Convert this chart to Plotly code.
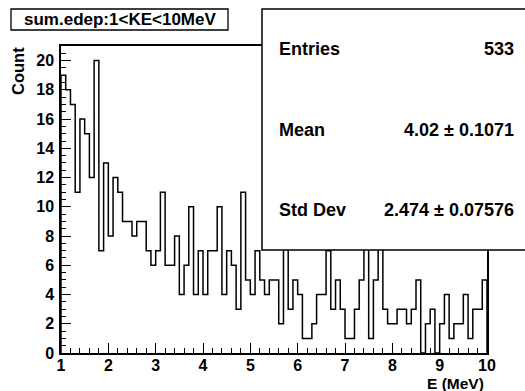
import numpy as np
import plotly.graph_objects as go

# ---------------- data ----------------
E_MIN, E_MAX = 1.0, 10.0
counts = [19, 18, 17, 11, 16, 15, 12, 20, 7, 13,
          8, 12, 11, 9, 9, 8, 9, 9, 7, 6,
          7, 11, 6, 6, 8, 4, 6, 10, 4, 7,
          4, 7, 7, 10, 4, 7, 6, 3, 11, 5,
          4, 7, 5, 4, 5, 5, 2, 8, 3, 5,
          4, 1, 1, 2, 4, 4, 7, 3, 5, 3,
          1, 1, 3, 5, 8, 1, 5, 8, 3, 2,
          2, 3, 3, 2, 3, 5, 0, 2, 3, 0,
          2, 4, 1, 2, 2, 4, 1, 3, 3, 5]
x_tick_vals = list(range(1, 11))
y_tick_vals = list(range(0, 21, 2))
title_text = "sum.edep:1<KE<10MeV"
x_title = "E (MeV)"
y_title = "Count"
stat_names = ["Entries", "Mean", "Std Dev"]
stat_values = ["533", "4.02 \u00b1 0.1071", "2.474 \u00b1 0.07576"]

# ---------------- layout geometry ----------------
W, H = 525, 391
L, R, T, B = 61, 38, 46, 38
PW, PH = W - L - R, H - T - B


def px(X):
    return (X - L) / PW


def py(Y):
    return (H - B - Y) / PH


FONT = "Liberation Sans, Arial, Helvetica, sans-serif"

nb = len(counts)
edges = np.linspace(E_MIN, E_MAX, nb + 1)
xs = [edges[0]] + list(edges[:nb]) + [edges[nb], edges[nb]]
ys = [0] + list(counts) + [counts[-1], 0]

fig = go.Figure()
fig.add_trace(go.Scatter(x=xs, y=ys, mode="lines", line=dict(color="black", width=1.5, shape="hv"),
                         hoverinfo="skip", showlegend=False))

axis_common = dict(showline=True, linecolor="black", linewidth=1.5, mirror=True, showgrid=False,
                   zeroline=False, ticks="inside", tickcolor="black", tickwidth=1.3, ticklen=10,
                   tickfont=dict(family=FONT, size=16, color="black", weight="bold"))

fig.update_layout(
    width=W, height=H, margin=dict(l=L, r=R, t=T, b=B),
    paper_bgcolor="white", plot_bgcolor="white",
    xaxis=dict(range=[E_MIN, E_MAX], tickvals=x_tick_vals, ticktext=[str(v) for v in x_tick_vals],
               minor=dict(ticks="inside", dtick=0.2, ticklen=5, tickcolor="black", tickwidth=1.3),
               ticklabelstandoff=-3, **axis_common),
    yaxis=dict(range=[0, 21], tickvals=y_tick_vals, ticktext=[str(v) for v in y_tick_vals],
               minor=dict(ticks="inside", dtick=0.5, ticklen=5, tickcolor="black", tickwidth=1.3),
               ticklabelstandoff=2, **axis_common),
)

# title box
fig.add_shape(type="rect", xref="paper", yref="paper", x0=px(11), x1=px(228), y0=py(30), y1=py(9),
              line=dict(color="black", width=1.3), fillcolor="white", layer="above")
fig.add_annotation(xref="paper", yref="paper", x=px(119.5), y=py(19.5), text=title_text, showarrow=False,
                   xanchor="center", yanchor="middle",
                   font=dict(family=FONT, size=17, color="black", weight="bold"))

# stats box
fig.add_shape(type="rect", xref="paper", yref="paper", x0=px(262), x1=px(540), y0=py(250), y1=py(9),
              line=dict(color="black", width=1.5), fillcolor="white", layer="above")
row_y = [49, 130, 210]
for name, val, yy in zip(stat_names, stat_values, row_y):
    fig.add_annotation(xref="paper", yref="paper", x=px(276.5), y=py(yy), text=name, showarrow=False,
                       xanchor="left", yanchor="middle",
                       font=dict(family=FONT, size=18, color="black", weight="bold"))
    fig.add_annotation(xref="paper", yref="paper", x=px(516), y=py(yy), text=val, showarrow=False,
                       xanchor="right", yanchor="middle",
                       font=dict(family=FONT, size=18, color="black", weight="bold"))

# axis titles
fig.add_annotation(xref="paper", yref="paper", x=px(486), y=py(383.5), text=x_title, showarrow=False,
                   xanchor="right", yanchor="middle",
                   font=dict(family=FONT, size=15.5, color="black", weight="bold"))
fig.add_annotation(xref="paper", yref="paper", x=px(17.5), y=py(71.5), text=y_title, showarrow=False,
                   textangle=-90, xanchor="center", yanchor="middle",
                   font=dict(family=FONT, size=16.5, color="black", weight="bold"))

fig.write_html("out.html")
